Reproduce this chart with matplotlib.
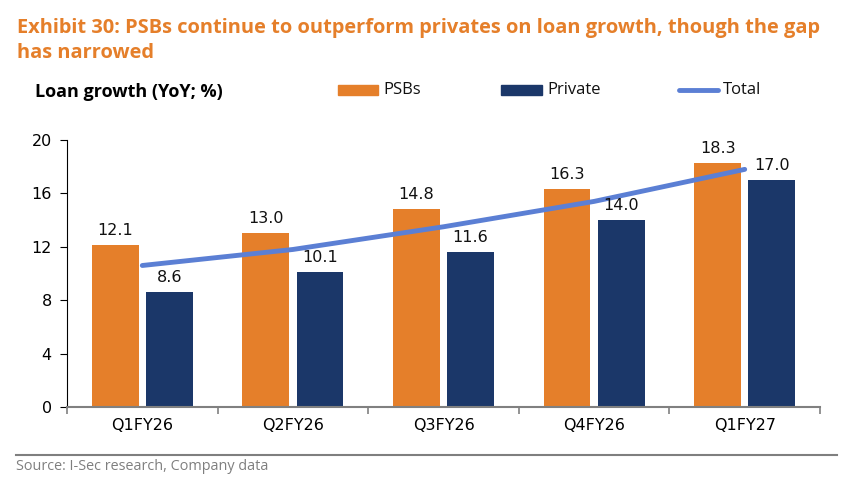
import numpy as np
import matplotlib
matplotlib.use("Agg")
import matplotlib.pyplot as plt
from matplotlib.lines import Line2D
from matplotlib.patches import Rectangle

# Data read from the exhibit
quarters = ["Q1FY26", "Q2FY26", "Q3FY26", "Q4FY26", "Q1FY27"]
psbs = [12.1, 13.0, 14.8, 16.3, 18.3]
private = [8.6, 10.1, 11.6, 14.0, 17.0]
total = [10.6, 11.8, 13.5, 15.4, 17.8]

ORANGE = "#E57F2A"
NAVY = "#1B3769"
BLUE = "#5B7FD4"
HEAD_FONT = "Open Sans"
W, H = 867, 501

fig = plt.figure(figsize=(W / 100, H / 100), dpi=100)
ax = fig.add_axes([67 / W, 1 - 407 / H, (820 - 67) / W, (407 - 140) / H])

x = np.arange(len(quarters))
bw = 0.31
ax.bar(x - 0.18, psbs, bw, color=ORANGE, zorder=2)
ax.bar(x + 0.18, private, bw, color=NAVY, zorder=2)
ax.plot(x, total, color=BLUE, lw=3.5, solid_capstyle="round", zorder=3)

for xi, v in zip(x - 0.18, psbs):
    ax.annotate(f"{v:.1f}", (xi, v), xytext=(0, 7), textcoords="offset pixels",
                ha="center", va="bottom", fontsize=11.5, color="#111111")
for xi, v in zip(x + 0.18, private):
    ax.annotate(f"{v:.1f}", (xi, v), xytext=(0, 7), textcoords="offset pixels",
                ha="center", va="bottom", fontsize=11.5, color="#111111")

ax.set_xlim(-0.5, len(quarters) - 0.5)
ax.set_ylim(0, 20)
ax.set_yticks(range(0, 21, 4))
ax.tick_params(axis="y", labelsize=11.5, length=5, direction="out", pad=6)
ax.set_xticks(x)
ax.set_xticklabels(quarters, fontsize=11.5)
ax.tick_params(axis="x", length=0, pad=8)
ax.set_xticks(np.arange(-0.5, len(quarters)), minor=True)
ax.tick_params(axis="x", which="minor", length=5, color="#808080", width=1.2)

for s in ["top", "right"]:
    ax.spines[s].set_visible(False)
ax.spines["left"].set_color("black")
ax.spines["bottom"].set_color("#808080")
ax.spines["bottom"].set_linewidth(1.5)

# Titles
fig.text(17 / W, 1 - 28 / H, "Exhibit 30: PSBs continue to outperform privates on loan growth, though the gap",
         color=ORANGE, fontsize=14.4, fontweight="bold", family=HEAD_FONT, va="center")
fig.text(17 / W, 1 - 53 / H, "has narrowed",
         color=ORANGE, fontsize=14.4, fontweight="bold", family=HEAD_FONT, va="center")
fig.text(35 / W, 1 - 92 / H, "Loan growth (YoY; %)", color="black", fontsize=13,
         fontweight="bold", family=HEAD_FONT, va="center")

# Legend (hand placed, like the exhibit)
ly = 1 - 90 / H
fig.add_artist(Rectangle((338 / W, ly - 5 / H), 40 / W, 10 / H, color=ORANGE))
fig.text(383 / W, ly, "PSBs", fontsize=12, family=HEAD_FONT, va="center", color="#111111")
fig.add_artist(Rectangle((501 / W, ly - 5 / H), 41 / W, 10 / H, color=NAVY))
fig.text(547 / W, ly, "Private", fontsize=12, family=HEAD_FONT, va="center", color="#111111")
fig.add_artist(Line2D([679 / W, 718 / W], [ly, ly], color=BLUE, lw=3.5,
                      solid_capstyle="round"))
fig.text(723 / W, ly, "Total", fontsize=12, family=HEAD_FONT, va="center", color="#111111")

# Footer
fig.add_artist(Line2D([16 / W, 837 / W], [1 - 455 / H, 1 - 455 / H],
                      color="#7F7F7F", lw=1.5))
fig.text(16 / W, 1 - 467 / H, "Source: I-Sec research, Company data", color="#7F7F7F",
         fontsize=10.4, family=HEAD_FONT, va="center")

fig.savefig("out.png", dpi=100)
